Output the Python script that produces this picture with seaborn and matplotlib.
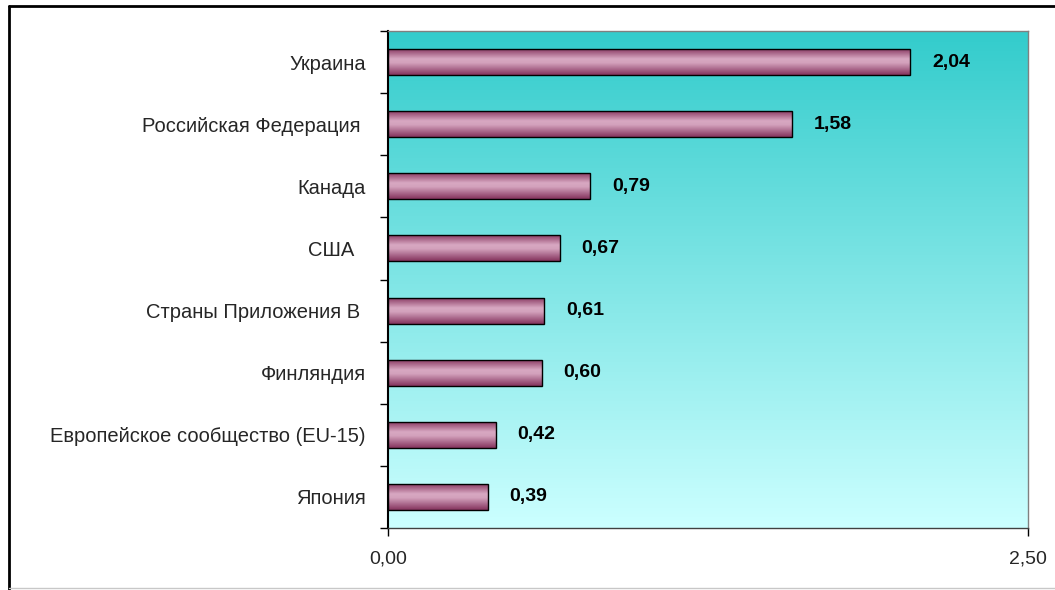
import matplotlib.pyplot as plt
import numpy as np
import pandas as pd
import seaborn as sns
from matplotlib.colors import LinearSegmentedColormap
from matplotlib.lines import Line2D

countries = [
    "Украина",
    "Российская Федерация ",
    "Канада",
    "США  ",
    "Страны Приложения В ",
    "Финляндия",
    "Европейское сообщество (EU-15)",
    "Япония",
]
values = [2.04, 1.58, 0.79, 0.67, 0.61, 0.60, 0.42, 0.39]
x_ticks = [0.0, 2.5]
x_tick_labels = ["0,00", "2,50"]

sns.set_theme(style="white")
plt.rcParams["font.family"] = ["Liberation Sans", "DejaVu Sans"]

W, H = 1055, 590
fig = plt.figure(figsize=(W / 100, H / 100), dpi=100)
ax = fig.add_axes([388 / W, 1 - 528 / H, 640 / W, 497 / H])

df = pd.DataFrame({"country": countries, "value": values})
sns.barplot(data=df, x="value", y="country", orient="h", width=0.42,
            color="#C08AA8", edgecolor="black", linewidth=1, ax=ax, zorder=3)

# background gradient, dark teal on top -> pale cyan at bottom
bg_cmap = LinearSegmentedColormap.from_list("bg", ["#33CCCC", "#CCFFFF"])
ax.imshow(np.linspace(0, 1, 256).reshape(-1, 1), cmap=bg_cmap, aspect="auto",
          extent=(0, 2.5, 7.5, -0.5), zorder=0, interpolation="bilinear")

# cylinder-like shading on the bars
bar_cmap = LinearSegmentedColormap.from_list(
    "bar", [(0, "#85345E"), (0.4, "#D8A8C2"), (0.55, "#D3A1BC"), (1, "#85345E")])
grad = np.linspace(0, 1, 64).reshape(-1, 1)
for p in list(ax.patches):
    x0, y0 = p.get_x(), p.get_y()
    w, h = p.get_width(), p.get_height()
    im = ax.imshow(grad, cmap=bar_cmap, aspect="auto", interpolation="bilinear",
                   extent=(x0, x0 + w, y0 + h, y0), zorder=4)
    im.set_clip_path(p)
    p.set_facecolor("none")
    p.set_zorder(5)

ax.set_xlim(0, 2.5)
ax.set_ylim(7.5, -0.5)

for i, v in enumerate(values):
    ax.text(v + 0.085, i, f"{v:.2f}".replace(".", ","), va="center", ha="left",
            fontsize=14, fontweight="bold", color="black", zorder=6)

ax.set_xlabel("")
ax.set_ylabel("")
ax.set_xticks(x_ticks)
ax.set_xticklabels(x_tick_labels, fontsize=14)
ax.set_yticks(range(len(countries)))
ax.set_yticklabels(countries, fontsize=14.5)
ax.set_yticks(np.arange(-0.5, len(countries), 1), minor=True)
ax.tick_params(axis="y", which="major", length=0, pad=16)
ax.tick_params(axis="y", which="minor", length=6, width=1, direction="out", color="black", left=True)
ax.tick_params(axis="x", which="major", length=6, width=1, direction="out", color="black",
               bottom=True, pad=10)

for side in ["top", "right"]:
    ax.spines[side].set_color("#808080")
    ax.spines[side].set_linewidth(1)
ax.spines["left"].set_color("black")
ax.spines["left"].set_linewidth(1.5)
ax.spines["bottom"].set_color("#404040")
ax.spines["bottom"].set_linewidth(1)

# chart area frame
fig.add_artist(Line2D([8.5 / W, 8.5 / W], [0, 1 - 5.5 / H], transform=fig.transFigure,
                      color="black", lw=2))
fig.add_artist(Line2D([8.5 / W, 1], [1 - 5.5 / H, 1 - 5.5 / H], transform=fig.transFigure,
                      color="black", lw=2))
fig.add_artist(Line2D([8.5 / W, 1], [1 - 587.5 / H, 1 - 587.5 / H], transform=fig.transFigure,
                      color="#C8C8C8", lw=1))

fig.savefig("out.png", dpi=100)
